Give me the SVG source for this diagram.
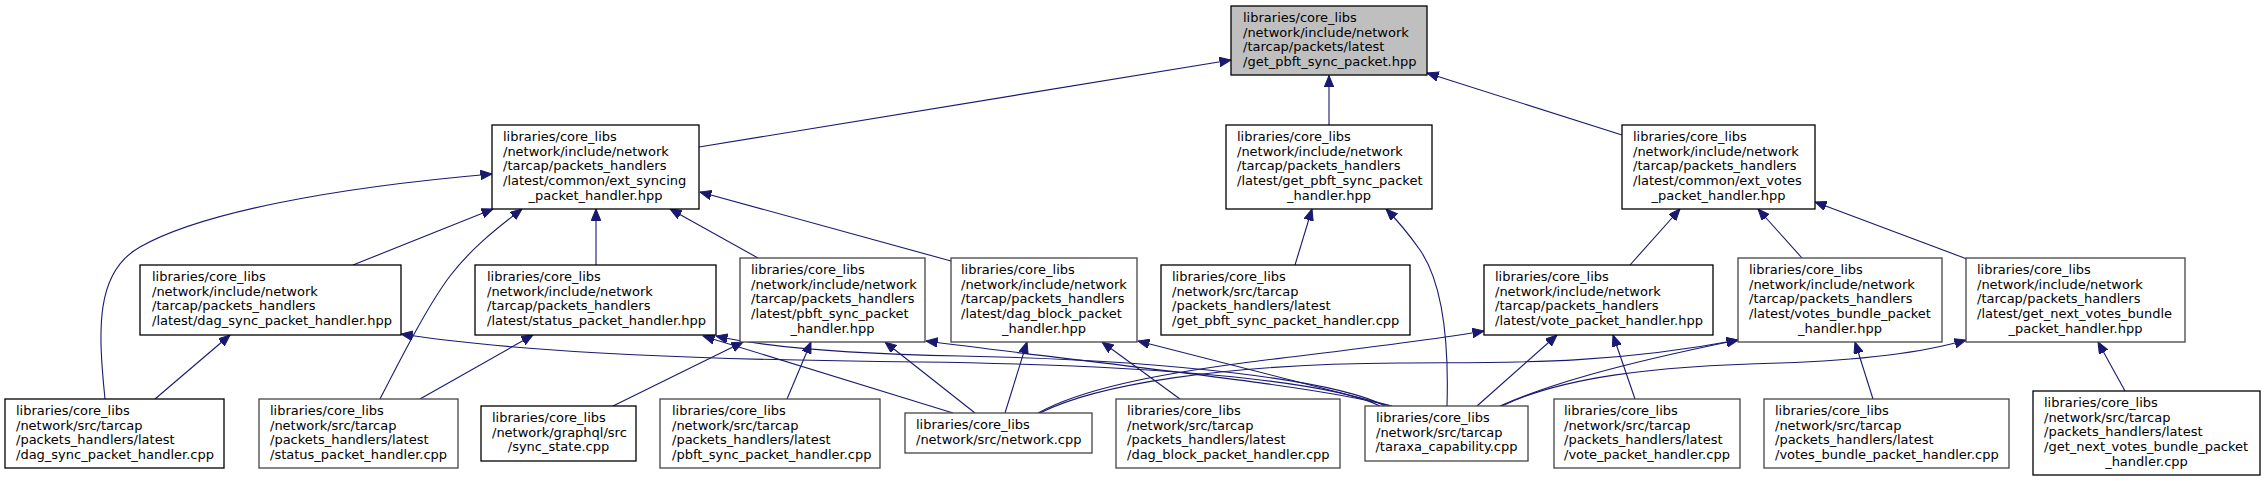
<svg xmlns="http://www.w3.org/2000/svg" width="2265" height="481" viewBox="0 0 2265 481">
<defs>
<style>
.node rect{fill:#ffffff;stroke:#000000;stroke-width:1.3}
.node.g rect{stroke:#444444}
.node.root rect{fill:#bfbfbf}
text{font-family:"DejaVu Sans","Liberation Sans",sans-serif;font-size:13px;fill:#000000}
.c{text-anchor:middle}
.e{fill:none;stroke:#191970;stroke-width:1.1;marker-end:url(#ah)}
</style>
<marker id="ah" markerUnits="userSpaceOnUse" markerWidth="12" markerHeight="10" viewBox="0 0 12 10" refX="11.5" refY="4.75" orient="auto">
<path d="M0,0 L11.5,4.75 L0,9.5 z" fill="#191970" stroke="#191970" stroke-width="1"/>
</marker>
</defs>
<rect x="0" y="0" width="2265" height="481" fill="#ffffff"/>

<g id="edges">
<path class="e" d="M699,147 L1231,60"/>
<path class="e" d="M1329,125 L1329,75.5"/>
<path class="e" d="M1622,135 L1427,73"/>
<path class="e" d="M105,399 C98,330 95,272 140,247 C200,213 330,188 492,174"/>
<path class="e" d="M353,265 L493,209"/>
<path class="e" d="M380,399 C400,360 428,305 450,276 C470,250 492,232 522,209"/>
<path class="e" d="M596,265 L596,209"/>
<path class="e" d="M758,258 L670,209"/>
<path class="e" d="M951,261 L700,192"/>
<path class="e" d="M1295,265 L1312,209"/>
<path class="e" d="M1447,406 C1449,340 1442,282 1420,250 C1408,233 1398,221 1386,209"/>
<path class="e" d="M1630,265 L1680,209"/>
<path class="e" d="M1802,258 L1758,209"/>
<path class="e" d="M1967,259 L1815,202"/>
<path class="e" d="M155,399 L230,335"/>
<path class="e" d="M1380,406 C1330,381 1160,365 920,362 C720,360 530,354 401,334"/>
<path class="e" d="M420,399 L533,335"/>
<path class="e" d="M953,413 L703,336"/>
<path class="e" d="M1385,406 C1335,380 1170,360 960,356 C850,354 770,348 716,336"/>
<path class="e" d="M613,406 L743,342"/>
<path class="e" d="M787,399 L811,342"/>
<path class="e" d="M975,413 L885,342"/>
<path class="e" d="M1390,406 C1320,386 1110,365 926,341"/>
<path class="e" d="M1005,413 L1027,342"/>
<path class="e" d="M1180,399 L1102,342"/>
<path class="e" d="M1392,406 L1138,341"/>
<path class="e" d="M1038,413 C1080,390 1150,375 1250,362 C1330,352 1420,342 1484,331"/>
<path class="e" d="M1477,406 L1557,335"/>
<path class="e" d="M1635,399 L1613,335"/>
<path class="e" d="M1040,413 C1095,385 1220,364 1400,363 C1500,362 1600,366 1738,340"/>
<path class="e" d="M1500,406 C1545,386 1610,366 1738,340"/>
<path class="e" d="M1873,399 L1855,342"/>
<path class="e" d="M1502,406 C1560,378 1650,366 1780,363 C1870,360 1925,352 1966,340"/>
<path class="e" d="M2125,391 L2098,342"/>
</g>

<g id="n0" class="node root">
<rect x="1231" y="6" width="196" height="69"/>
<text x="1243" y="22">libraries/core_libs</text>
<text x="1243" y="36.7">/network/include/network</text>
<text x="1243" y="51.4">/tarcap/packets/latest</text>
<text x="1243" y="66.1">/get_pbft_sync_packet.hpp</text>
</g>

<g id="n1" class="node">
<rect x="492" y="125" width="207" height="84"/>
<text x="503" y="141">libraries/core_libs</text>
<text x="503" y="155.7">/network/include/network</text>
<text x="503" y="170.4">/tarcap/packets_handlers</text>
<text x="503" y="185.1">/latest/common/ext_syncing</text>
<text class="c" x="595.5" y="199.8">_packet_handler.hpp</text>
</g>

<g id="n2" class="node">
<rect x="1226" y="125" width="206" height="84"/>
<text x="1237" y="141">libraries/core_libs</text>
<text x="1237" y="155.7">/network/include/network</text>
<text x="1237" y="170.4">/tarcap/packets_handlers</text>
<text x="1237" y="185.1">/latest/get_pbft_sync_packet</text>
<text class="c" x="1329" y="199.8">_handler.hpp</text>
</g>

<g id="n3" class="node">
<rect x="1622" y="125" width="193" height="84"/>
<text x="1633" y="141">libraries/core_libs</text>
<text x="1633" y="155.7">/network/include/network</text>
<text x="1633" y="170.4">/tarcap/packets_handlers</text>
<text x="1633" y="185.1">/latest/common/ext_votes</text>
<text class="c" x="1718.5" y="199.8">_packet_handler.hpp</text>
</g>

<g id="n4" class="node">
<rect x="140" y="265" width="261" height="70"/>
<text x="152" y="281">libraries/core_libs</text>
<text x="152" y="295.7">/network/include/network</text>
<text x="152" y="310.4">/tarcap/packets_handlers</text>
<text x="152" y="325.1">/latest/dag_sync_packet_handler.hpp</text>
</g>

<g id="n5" class="node">
<rect x="475" y="265" width="241" height="70"/>
<text x="487" y="281">libraries/core_libs</text>
<text x="487" y="295.7">/network/include/network</text>
<text x="487" y="310.4">/tarcap/packets_handlers</text>
<text x="487" y="325.1">/latest/status_packet_handler.hpp</text>
</g>

<g id="n6" class="node g">
<rect x="740" y="258" width="185" height="84"/>
<text x="751" y="274">libraries/core_libs</text>
<text x="751" y="288.7">/network/include/network</text>
<text x="751" y="303.4">/tarcap/packets_handlers</text>
<text x="751" y="318.1">/latest/pbft_sync_packet</text>
<text class="c" x="832.5" y="332.8">_handler.hpp</text>
</g>

<g id="n7" class="node g">
<rect x="951" y="258" width="186" height="84"/>
<text x="961" y="274">libraries/core_libs</text>
<text x="961" y="288.7">/network/include/network</text>
<text x="961" y="303.4">/tarcap/packets_handlers</text>
<text x="961" y="318.1">/latest/dag_block_packet</text>
<text class="c" x="1044" y="332.8">_handler.hpp</text>
</g>

<g id="n8" class="node">
<rect x="1161" y="265" width="249" height="70"/>
<text x="1172" y="281">libraries/core_libs</text>
<text x="1172" y="295.7">/network/src/tarcap</text>
<text x="1172" y="310.4">/packets_handlers/latest</text>
<text x="1172" y="325.1">/get_pbft_sync_packet_handler.cpp</text>
</g>

<g id="n9" class="node">
<rect x="1484" y="265" width="229" height="70"/>
<text x="1495" y="281">libraries/core_libs</text>
<text x="1495" y="295.7">/network/include/network</text>
<text x="1495" y="310.4">/tarcap/packets_handlers</text>
<text x="1495" y="325.1">/latest/vote_packet_handler.hpp</text>
</g>

<g id="n10" class="node g">
<rect x="1738" y="258" width="204" height="84"/>
<text x="1749" y="274">libraries/core_libs</text>
<text x="1749" y="288.7">/network/include/network</text>
<text x="1749" y="303.4">/tarcap/packets_handlers</text>
<text x="1749" y="318.1">/latest/votes_bundle_packet</text>
<text class="c" x="1840" y="332.8">_handler.hpp</text>
</g>

<g id="n11" class="node g">
<rect x="1966" y="258" width="219" height="84"/>
<text x="1977" y="274">libraries/core_libs</text>
<text x="1977" y="288.7">/network/include/network</text>
<text x="1977" y="303.4">/tarcap/packets_handlers</text>
<text x="1977" y="318.1">/latest/get_next_votes_bundle</text>
<text class="c" x="2075.5" y="332.8">_packet_handler.hpp</text>
</g>

<g id="n12" class="node">
<rect x="5" y="399" width="219" height="69"/>
<text x="16" y="415">libraries/core_libs</text>
<text x="16" y="429.7">/network/src/tarcap</text>
<text x="16" y="444.4">/packets_handlers/latest</text>
<text x="16" y="459.1">/dag_sync_packet_handler.cpp</text>
</g>

<g id="n13" class="node g">
<rect x="259" y="399" width="199" height="69"/>
<text x="270" y="415">libraries/core_libs</text>
<text x="270" y="429.7">/network/src/tarcap</text>
<text x="270" y="444.4">/packets_handlers/latest</text>
<text x="270" y="459.1">/status_packet_handler.cpp</text>
</g>

<g id="n14" class="node">
<rect x="481" y="406" width="155" height="55"/>
<text x="492" y="422">libraries/core_libs</text>
<text x="492" y="436.7">/network/graphql/src</text>
<text class="c" x="558.5" y="451.4">/sync_state.cpp</text>
</g>

<g id="n15" class="node g">
<rect x="660" y="399" width="220" height="69"/>
<text x="672" y="415">libraries/core_libs</text>
<text x="672" y="429.7">/network/src/tarcap</text>
<text x="672" y="444.4">/packets_handlers/latest</text>
<text x="672" y="459.1">/pbft_sync_packet_handler.cpp</text>
</g>

<g id="n16" class="node g">
<rect x="905" y="413" width="187" height="40"/>
<text x="916" y="429">libraries/core_libs</text>
<text x="916" y="443.7">/network/src/network.cpp</text>
</g>

<g id="n17" class="node g">
<rect x="1116" y="399" width="224" height="69"/>
<text x="1127" y="415">libraries/core_libs</text>
<text x="1127" y="429.7">/network/src/tarcap</text>
<text x="1127" y="444.4">/packets_handlers/latest</text>
<text x="1127" y="459.1">/dag_block_packet_handler.cpp</text>
</g>

<g id="n18" class="node g">
<rect x="1365" y="406" width="163" height="55"/>
<text x="1376" y="422">libraries/core_libs</text>
<text x="1376" y="436.7">/network/src/tarcap</text>
<text class="c" x="1446.5" y="451.4">/taraxa_capability.cpp</text>
</g>

<g id="n19" class="node g">
<rect x="1554" y="399" width="186" height="69"/>
<text x="1564" y="415">libraries/core_libs</text>
<text x="1564" y="429.7">/network/src/tarcap</text>
<text x="1564" y="444.4">/packets_handlers/latest</text>
<text x="1564" y="459.1">/vote_packet_handler.cpp</text>
</g>

<g id="n20" class="node g">
<rect x="1764" y="399" width="245" height="69"/>
<text x="1775" y="415">libraries/core_libs</text>
<text x="1775" y="429.7">/network/src/tarcap</text>
<text x="1775" y="444.4">/packets_handlers/latest</text>
<text x="1775" y="459.1">/votes_bundle_packet_handler.cpp</text>
</g>

<g id="n21" class="node">
<rect x="2033" y="391" width="227" height="84"/>
<text x="2044" y="407">libraries/core_libs</text>
<text x="2044" y="421.7">/network/src/tarcap</text>
<text x="2044" y="436.4">/packets_handlers/latest</text>
<text x="2044" y="451.1">/get_next_votes_bundle_packet</text>
<text class="c" x="2146.5" y="465.8">_handler.cpp</text>
</g>
</svg>
